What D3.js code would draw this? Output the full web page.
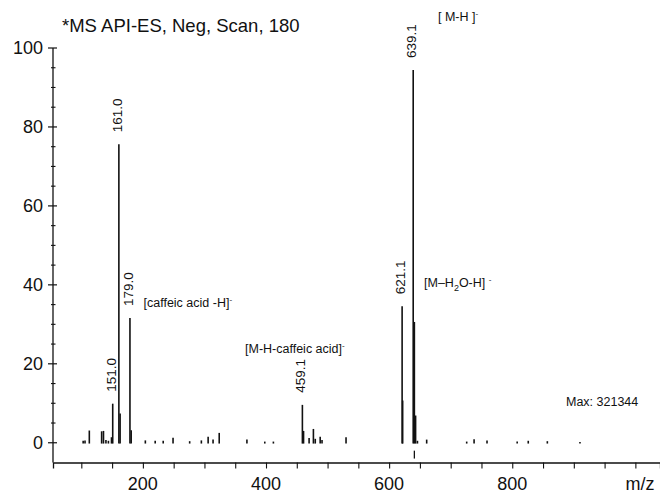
<!DOCTYPE html>
<html>
<head>
<meta charset="utf-8">
<script src="https://cdn.jsdelivr.net/npm/d3@7"></script>
<style>
  html, body { margin: 0; padding: 0; background: #fff; }
  svg { display: block; font-family: "Liberation Sans", Arial, sans-serif; }
</style>
</head>
<body>
<svg id="chart" width="660" height="493"></svg>
<script>
// ---- data ----
const peakMz = [103, 106, 113, 133, 136, 140, 144, 149, 151.0, 161.0, 163, 179.0, 181, 204, 220, 233, 249, 276, 295, 306, 314, 324, 369, 398, 412, 459.1, 461, 470, 477, 480, 488, 491, 530, 621.1, 622, 639.1, 641, 643, 646, 661, 726, 738, 759, 808, 826, 857, 910];
const peakInt = [0.5, 0.6, 3.1, 2.9, 3.0, 0.7, 0.5, 1.4, 9.9, 75.6, 7.4, 31.6, 3.2, 0.6, 0.5, 0.5, 1.3, 0.4, 0.6, 1.5, 0.8, 2.5, 0.8, 0.3, 0.3, 9.6, 3.0, 1.2, 3.5, 1.0, 1.5, 0.7, 1.4, 34.6, 10.7, 94.4, 30.6, 6.9, 0.5, 0.8, 0.3, 0.9, 0.6, 0.3, 0.5, 0.4, 0.2];
const labelledMz = [151.0, 161.0, 179.0, 459.1, 621.1, 639.1];
const labelledInt = [9.9, 75.6, 31.6, 9.6, 34.6, 94.4];
const labelText = ["151.0", "161.0", "179.0", "459.1", "621.1", "639.1"];
const precursorMz = 641;
const yTicks = [0, 20, 40, 60, 80, 100];
const xTicks = [200, 400, 600, 800];
const titleText = "*MS API-ES, Neg, Scan, 180";
const maxText = "Max: 321344";

// ---- scales ----
const svg = d3.select("#chart");
const x = d3.scaleLinear().domain([54, 1040]).range([53, 660]);
const y = d3.scaleLinear().domain([-5, 100]).range([462.5, 48]);

// ---- axes ----
const yMinor = d3.range(-5, 101, 5).filter(v => v >= 0 && !yTicks.includes(v));
const yAx = svg.append("g");
yAx.append("line").attr("x1", 53).attr("x2", 53).attr("y1", y(100)).attr("y2", y(-5))
  .attr("stroke", "#111").attr("stroke-width", 1.3);
yAx.selectAll(".ymaj").data(yTicks).join("line")
  .attr("x1", 48).attr("x2", 57).attr("y1", d => y(d)).attr("y2", d => y(d))
  .attr("stroke", "#111").attr("stroke-width", 1.2);
yAx.selectAll(".ymin").data(yMinor).join("line")
  .attr("x1", 51).attr("x2", 55.5).attr("y1", d => y(d)).attr("y2", d => y(d))
  .attr("stroke", "#111").attr("stroke-width", 1.1);
yAx.selectAll(".ylab").data(yTicks).join("text")
  .attr("x", 43).attr("y", d => y(d)).attr("dy", "0.36em")
  .attr("text-anchor", "end").attr("font-size", 18).attr("fill", "#111")
  .text(d => d);

const xAx = svg.append("g").attr("transform", `translate(0,${y(-5)})`);
const xAxis = d3.axisBottom(x).tickValues(d3.range(100, 1001, 50)).tickSize(6).tickFormat("");
xAx.call(xAxis);
xAx.select(".domain").attr("stroke", "#111").attr("stroke-width", 1.3);
xAx.selectAll(".tick line").attr("stroke", "#111").attr("stroke-width", 1.1);
svg.selectAll(".xlab").data(xTicks).join("text")
  .attr("x", d => x(d)).attr("y", 490)
  .attr("text-anchor", "middle").attr("font-size", 18).attr("fill", "#111")
  .text(d => d);
svg.append("text").attr("x", 640).attr("y", 490).attr("text-anchor", "middle")
  .attr("font-size", 18).attr("fill", "#111").text("m/z");

// ---- peaks ----
svg.append("g").selectAll("line").data(peakMz.map((m, i) => [m, peakInt[i]])).join("line")
  .attr("x1", d => x(d[0])).attr("x2", d => x(d[0]))
  .attr("y1", y(0) + 0.8).attr("y2", d => y(d[1]))
  .attr("stroke", "#111").attr("stroke-width", 1.6);

// precursor marker below baseline
svg.append("line").attr("x1", x(precursorMz)).attr("x2", x(precursorMz))
  .attr("y1", y(-2)).attr("y2", y(-4)).attr("stroke", "#111").attr("stroke-width", 1.3);

// ---- peak labels (rotated) ----
svg.append("g").selectAll("text").data(labelledMz.map((m, i) => [m, labelledInt[i], labelText[i]])).join("text")
  .attr("transform", d => `translate(${x(d[0]) + 3},${y(d[1]) - 12}) rotate(-90)`)
  .attr("text-anchor", "start").attr("font-size", 13.5).attr("fill", "#111")
  .text(d => d[2]);

// ---- annotations ----
svg.append("text").attr("x", 62).attr("y", 32).attr("font-size", 18.5).attr("fill", "#111").text(titleText);

function ann(xp, yp, parts) {
  const t = svg.append("text").attr("x", xp).attr("y", yp).attr("font-size", 12.5).attr("fill", "#111");
  parts.forEach(p => {
    const ts = t.append("tspan").text(p[0]);
    if (p[1] === "sup") ts.attr("font-size", 8).attr("dy", -5);
    if (p[1] === "sub") ts.attr("font-size", 9).attr("dy", 4);
    if (p[1] === "base") ts.attr("dy", p[2]);
  });
}
ann(x(201) - 143 + 143, 307, [["[caffeic acid -H]"], ["-", "sup"]]);
ann(245, 353, [["[M-H-caffeic acid]"], ["-", "sup"]]);
ann(424, 287, [["[M\u2013H"], ["2", "sub"], ["O-H] ", "base", -4], ["-", "sup"]]);
ann(438, 21, [["[ M-H ]"], ["-", "sup"]]);
svg.append("text").attr("x", 566).attr("y", 406).attr("font-size", 12.5).attr("fill", "#111").text(maxText);
</script>
</body>
</html>
